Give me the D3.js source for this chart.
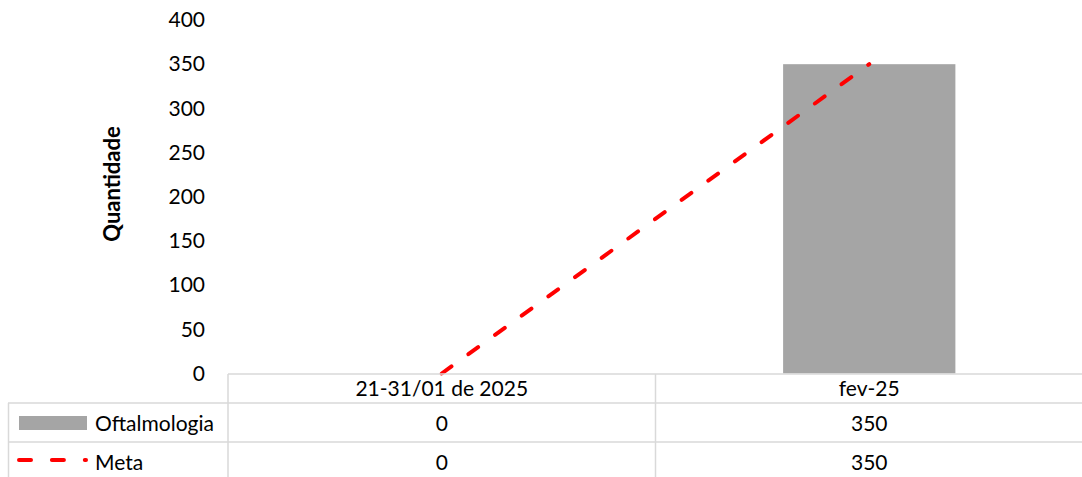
<!DOCTYPE html>
<html><head><meta charset="utf-8">
<script src="https://cdn.jsdelivr.net/npm/d3@7"></script>
<style>body{margin:0;background:#fff;} text{font-family:Lato,"Open Sans",sans-serif;}</style>
</head><body>
<svg id="c" width="1082" height="477"></svg>
<script>
const categories = ["21-31/01 de 2025", "fev-25"];
const oftalmologia = [0, 350];
const meta = [0, 350];
const yTicks = [0, 50, 100, 150, 200, 250, 300, 350, 400];
const seriesNames = ["Oftalmologia", "Meta"];

(function(){
const svg = d3.select("#c");
const pl = 228, pr = 1083, pt = 20, pb = 373.5;
const x = d3.scaleBand().domain(categories).range([pl, pr]).padding(0);
const y = d3.scaleLinear().domain([0, 400]).range([pb, pt]);
const fs = 21;

// y axis labels
const ax = svg.append("g").attr("transform", `translate(${pl},0)`)
  .call(d3.axisLeft(y).tickValues(yTicks).tickSize(0).tickPadding(23));
ax.select(".domain").remove();
ax.selectAll("text").style("font-size", fs + "px").attr("fill", "#000").style("font-family","Lato");

// axis title
svg.append("text").attr("transform", `translate(120,184) rotate(-90)`)
  .attr("text-anchor", "middle").style("font-size", "22px").style("font-weight", "bold")
  .text("Quantidade");

// bars
const bw = x.bandwidth() * 0.403;
svg.selectAll("rect.bar").data(oftalmologia).enter().append("rect")
  .attr("x", (d, i) => x(categories[i]) + x.bandwidth() / 2 - bw / 2)
  .attr("y", d => y(d)).attr("width", bw).attr("height", d => y(0) - y(d))
  .attr("fill", "#a5a5a5");

// meta line
const line = d3.line().x((d, i) => x(categories[i]) + x.bandwidth() / 2).y(d => y(d));
svg.append("path").datum(meta).attr("d", line).attr("fill", "none")
  .attr("stroke", "#ff0000").attr("stroke-width", 4).attr("stroke-linecap", "round")
  .attr("stroke-dasharray", "12,20.9");

// data table
const g = svg.append("g");
const lc = "#d9d9d9", lw = 1.5;
const rows = [374, 403, 442, 481];
g.append("line").attr("x1", pl).attr("x2", pr).attr("y1", rows[0]).attr("y2", rows[0]).attr("stroke", lc).attr("stroke-width", lw);
[rows[1], rows[2]].forEach(yy => g.append("line").attr("x1", 8).attr("x2", pr).attr("y1", yy).attr("y2", yy).attr("stroke", lc).attr("stroke-width", lw));
g.append("line").attr("x1", 8.5).attr("x2", 8.5).attr("y1", rows[1]).attr("y2", 477).attr("stroke", lc).attr("stroke-width", lw);
[pl, x(categories[1])].forEach(xx => g.append("line").attr("x1", xx).attr("x2", xx).attr("y1", rows[0]).attr("y2", 477).attr("stroke", lc).attr("stroke-width", lw));

// header
categories.forEach((c, i) => {
  g.append("text").attr("x", x(c) + x.bandwidth() / 2).attr("y", 396).attr("text-anchor", "middle")
    .style("font-size", fs + "px").text(c);
});
const rowY = [431, 470];
[oftalmologia, meta].forEach((s, r) => {
  s.forEach((v, i) => {
    g.append("text").attr("x", x(categories[i]) + x.bandwidth() / 2).attr("y", rowY[r]).attr("text-anchor", "middle")
      .style("font-size", fs + "px").text(v);
  });
  g.append("text").attr("x", 95).attr("y", rowY[r]).style("font-size", fs + "px").text(seriesNames[r]);
});
// legend keys
g.append("rect").attr("x", 19).attr("y", 416).attr("width", 68).attr("height", 14).attr("fill", "#a5a5a5");
g.append("line").attr("x1", 19).attr("x2", 86).attr("y1", 460).attr("y2", 460)
  .attr("stroke", "#ff0000").attr("stroke-width", 4).attr("stroke-linecap", "round").attr("stroke-dasharray", "12,20.9");
})();
</script>
</body></html>
